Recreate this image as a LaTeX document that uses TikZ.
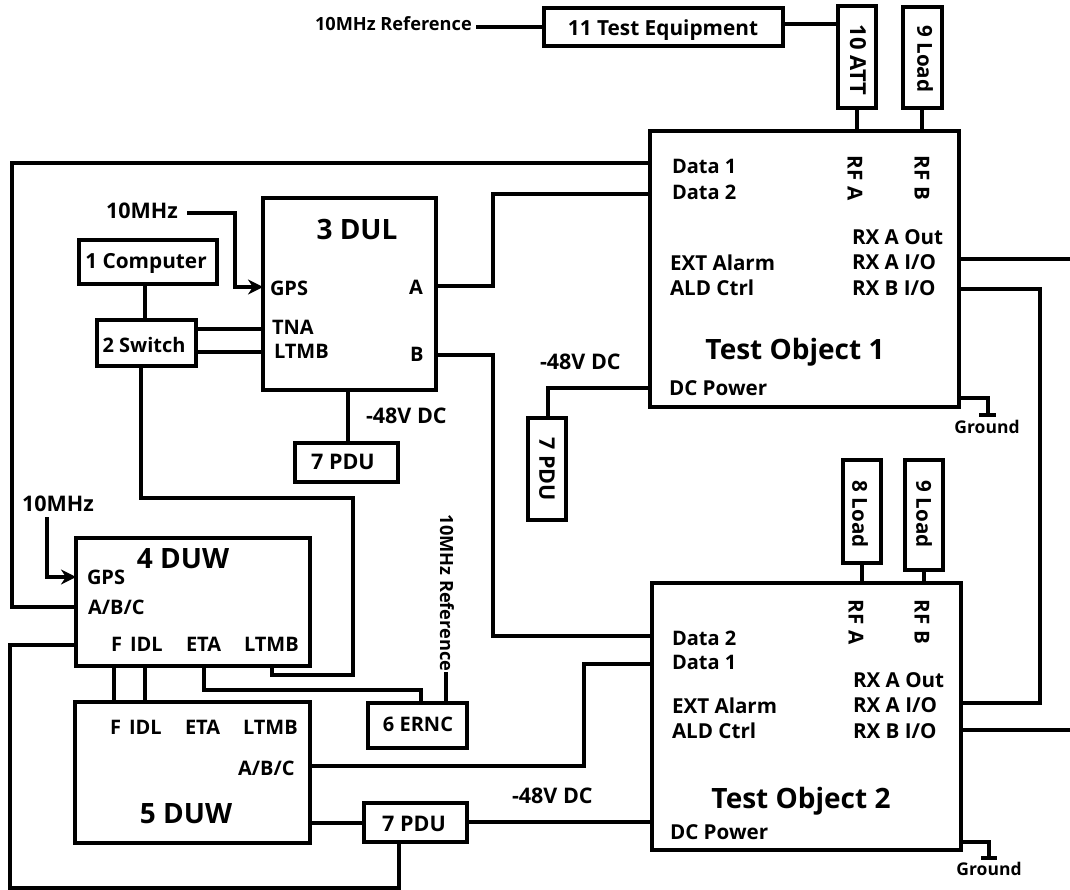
\documentclass[tikz,border=0pt]{standalone}
\usepackage{fontspec}
\setmainfont{Open Sans}[BoldFont={Open Sans Bold}]
\usetikzlibrary{arrows.meta}
\tikzset{
  every node/.style={font=\bfseries\fontsize{20}{20}\selectfont, inner sep=0pt, outer sep=0pt, text=black},
  blk/.style={draw=black, line width=4pt, fill=white, anchor=north west},
  wire/.style={draw=black, line width=4pt, line join=miter},
  lab/.style={anchor=west},
  big/.style={font=\bfseries\fontsize{28}{28}\selectfont},
  med/.style={font=\bfseries\fontsize{20.8}{21}\selectfont},
  sml/.style={font=\bfseries\fontsize{18.2}{18}\selectfont},
  gnd/.style={font=\bfseries\fontsize{17.5}{18}\selectfont},
  rxl/.style={font=\bfseries\fontsize{20.6}{21}\selectfont},
  lrg/.style={font=\bfseries\fontsize{21.5}{22}\selectfont},
}
\begin{document}
\begin{tikzpicture}[x=1pt,y=-1pt]
\useasboundingbox (0,0) rectangle (1070,890);
\coordinate (c1a) at (12,163);
\coordinate (c1b) at (12,607);
\coordinate (c2a) at (493,194);
\coordinate (c2b) at (493,286);
\coordinate (c3a) at (493,355);
\coordinate (c3b) at (493,636);
% boxes
\node[blk,minimum width=239pt,minimum height=38pt] (te) at (544,8) {};
\node[blk,minimum width=38pt,minimum height=102pt] (att) at (838,6) {};
\node[blk,minimum width=39pt,minimum height=101pt] (loadA) at (903,7) {};
\node[blk,minimum width=309pt,minimum height=276pt] (to1) at (650,131) {};
\node[blk,minimum width=173pt,minimum height=192pt] (dul) at (263,198) {};
\node[blk,minimum width=138pt,minimum height=44pt] (comp) at (79,240) {};
\node[blk,minimum width=99pt,minimum height=46pt] (sw) at (97,320) {};
\node[blk,minimum width=103pt,minimum height=39pt] (pduA) at (295,443) {};
\node[blk,minimum width=38pt,minimum height=102pt] (pduB) at (528,418) {};
\node[blk,minimum width=234pt,minimum height=128pt] (duwA) at (76,538) {};
\node[blk,minimum width=235pt,minimum height=141pt] (duwB) at (75,702) {};
\node[blk,minimum width=99pt,minimum height=45pt] (ernc) at (368,703) {};
\node[blk,minimum width=103pt,minimum height=39pt] (pduC) at (364,803) {};
\node[blk,minimum width=309pt,minimum height=267pt] (to2) at (652,583) {};
\node[blk,minimum width=38pt,minimum height=103pt] (loadB) at (843,460) {};
\node[blk,minimum width=38pt,minimum height=110pt] (loadC) at (905,460) {};
% free-end coordinates
\coordinate (refA) at (476,27);
\coordinate (mhzA) at (187,213);
\coordinate (mhzB) at (47,517);
\coordinate (refB) at (446,672);
\coordinate (outA) at (1070,259);
\coordinate (outB) at (1070,730);
% connectors
\draw[wire] (refA) -- (te.west |- refA);
\draw[wire] (te.east |- 0,24) -- (att.west |- 0,24);
\draw[wire] (att.south) -- (att.south |- to1.north);
\draw[wire] (922,108) -- (922,131);
\draw[wire] (to1.west |- c1a) -- (c1a) -- (c1b) -- (duwA.west |- c1b);
\draw[wire] (to1.west |- c2a) -- (c2a) -- (c2b) -- (dul.east |- c2b);
\draw[wire] (dul.east |- c3a) -- (c3a) -- (c3b) -- (to2.west |- c3b);
\draw[wire,-{Stealth[length=15pt,width=15pt]}] (mhzA) -- (235,213) -- (235,287) -- (dul.west |- 0,287);
\draw[wire] (comp.south -| 145,0) -- (sw.north -| 145,0);
\draw[wire] (sw.east |- 0,329) -- (dul.west |- 0,329);
\draw[wire] (sw.east |- 0,352) -- (dul.west |- 0,352);
\draw[wire] (sw.south -| 141,0) -- (141,498) -- (353,498) -- (353,675) -- (272,675) -- (duwA.south -| 272,0);
\draw[wire] (dul.south -| 348,0) -- (pduA.north -| 348,0);
\draw[wire,-{Stealth[length=15pt,width=15pt]}] (mhzB) -- (47,577) -- (duwA.west |- 0,577);
\draw[wire] (duwA.west |- 0,645) -- (10,645) -- (10,888) -- (399,888) -- (pduC.south -| 399,0);
\draw[wire] (duwA.south -| 114,0) -- (duwB.north -| 114,0);
\draw[wire] (duwA.south -| 145,0) -- (duwB.north -| 145,0);
\draw[wire] (duwA.south -| 204,0) -- (204,690) -- (421,690) -- (ernc.north -| 421,0);
\draw[wire] (refB) -- (ernc.north -| refB);
\draw[wire] (duwB.east |- 0,766) -- (584,766) -- (584,664) -- (to2.west |- 0,664);
\draw[wire] (duwB.east |- 0,823) -- (pduC.west |- 0,823);
\draw[wire] (pduC.east |- 0,822) -- (to2.west |- 0,822);
\draw[wire] (to1.west |- 0,388) -- (548,388) -- (pduB.north -| 548,0);
\draw[wire] (to1.east |- 0,398) -- (988,398) -- (988,415);
\draw[wire] (979,415) -- (996,415);
\draw[wire] (to2.east |- 0,842) -- (989,842) -- (989,858);
\draw[wire] (981,858) -- (997,858);
\draw[wire] (to1.east |- 0,259) -- (outA);
\draw[wire] (to1.east |- 0,289) -- (1040,289) -- (1040,703) -- (to2.east |- 0,703);
\draw[wire] (to2.east |- 0,730) -- (outB);
\draw[wire] (loadB.south) -- (loadB.south |- to2.north);
\draw[wire] (loadC.south) -- (loadC.south |- to2.north);
% labels
\node[sml,anchor=west] (t1) at (315,24) {10MHz Reference};
\node[med,anchor=center] (t2) at (663,30) {11 Test Equipment};
\node[rotate=-90,font=\bfseries\fontsize{22}{22}\selectfont] (t3) at (858,60) {10 ATT};
\node[rotate=-90,rxl] (t4) at (925,59) {9 Load};
\node[lab] (t5) at (672,166) {Data 1};
\node[lab] (t6) at (672,192) {Data 2};
\node[rotate=-90,rxl] (t7) at (855,178) {RF A};
\node[rotate=-90,rxl] (t8) at (922,178) {RF B};
\node[lab,rxl] (t9) at (852,237) {RX A Out};
\node[lab,rxl] (t10) at (852,262) {RX A I/O};
\node[lab,rxl] (t11) at (852,288) {RX B I/O};
\node[lab,rxl] (t12) at (670,263) {EXT Alarm};
\node[lab,rxl] (t13) at (670,288) {ALD Ctrl};
\node[big,anchor=center] (t14) at (795,352) {Test Object 1};
\node[lab,rxl] (t15) at (669,388) {DC Power};
\node[lab,lrg] (t16) at (540,362) {-48V DC};
\node[gnd,anchor=center] (t17) at (987,427) {Ground};
\node[rotate=-90,lrg] (t18) at (547,469) {7 PDU};
\node[anchor=west,lrg] (t19) at (106,211) {10MHz};
\node[big,anchor=center] (t20) at (357,230) {3 DUL};
\node[med,anchor=center] (t21) at (146,263) {1 Computer};
\node[anchor=center] (t22) at (144,345) {2 Switch};
\node[lab] (t23) at (270,288) {GPS};
\node[lab] (t24) at (272,327) {TNA};
\node[lab] (t25) at (274,351) {LTMB};
\node[lab] (t26) at (409,287) {A};
\node[lab] (t27) at (410,354) {B};
\node[lab,lrg] (t28) at (366,416) {-48V DC};
\node[anchor=center,lrg] (t29) at (343,462) {7 PDU};
\node[anchor=west,lrg] (t30) at (22,504) {10MHz};
\node[big,anchor=center] (t31) at (183,559) {4 DUW};
\node[lab] (t32) at (87,577) {GPS};
\node[lab] (t33) at (88,607) {A/B/C};
\node[lab] (t34) at (111,644) {F};
\node[lab] (t35) at (130,644) {IDL};
\node[lab] (t36) at (186,644) {ETA};
\node[lab] (t37) at (244,644) {LTMB};
\node[lab] (t38) at (110,727) {F};
\node[lab] (t39) at (129,727) {IDL};
\node[lab] (t40) at (185,727) {ETA};
\node[lab] (t41) at (243,727) {LTMB};
\node[lab] (t42) at (238,768) {A/B/C};
\node[big,anchor=center] (t43) at (186,814) {5 DUW};
\node[rotate=-90,sml] (t44) at (447,593) {10MHz Reference};
\node[anchor=center] (t45) at (418,724) {6 ERNC};
\node[anchor=center,lrg] (t46) at (414,824) {7 PDU};
\node[lab,lrg] (t47) at (512,796) {-48V DC};
\node[rotate=-90,rxl] (t48) at (860,514) {8 Load};
\node[rotate=-90,rxl] (t49) at (924,514) {9 Load};
\node[rotate=-90,rxl] (t50) at (856,622) {RF A};
\node[rotate=-90,rxl] (t51) at (922,622) {RF B};
\node[lab] (t52) at (672,638) {Data 2};
\node[lab] (t53) at (672,662) {Data 1};
\node[lab,rxl] (t54) at (853,680) {RX A Out};
\node[lab,rxl] (t55) at (853,705) {RX A I/O};
\node[lab,rxl] (t56) at (853,731) {RX B I/O};
\node[lab,rxl] (t57) at (672,706) {EXT Alarm};
\node[lab,rxl] (t58) at (672,731) {ALD Ctrl};
\node[big,anchor=center] (t59) at (801,801) {Test Object 2};
\node[lab,rxl] (t60) at (670,832) {DC Power};
\node[gnd,anchor=center] (t61) at (989,869) {Ground};
\end{tikzpicture}
\end{document}
